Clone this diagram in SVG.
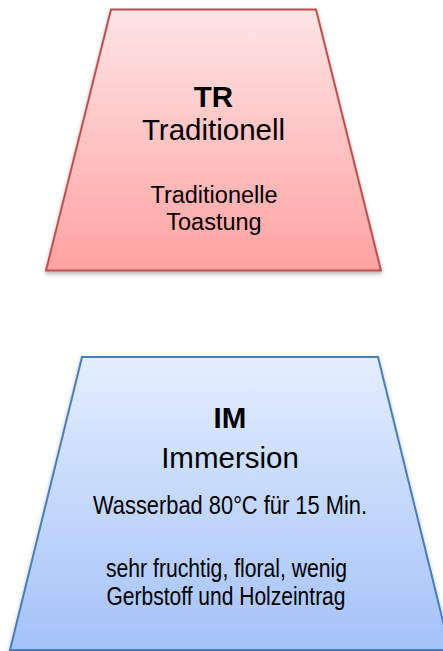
<svg xmlns="http://www.w3.org/2000/svg" width="443" height="651" viewBox="0 0 443 651">
  <style>
    .t { font-family: "Liberation Sans", Arial, sans-serif; fill: #000; text-anchor: middle; }
    .h { font-weight: bold; font-size: 29.5px; }
    .s { font-size: 29.5px; }
    .b { font-size: 23.5px; }
    .c { font-size: 25px; }
  </style>
  <defs>
    <linearGradient id="gRed" x1="0" y1="0" x2="0" y2="1">
      <stop offset="0" stop-color="#fee5e5"/>
      <stop offset="1" stop-color="#ffa2a2"/>
    </linearGradient>
    <linearGradient id="gBlue" x1="0" y1="0" x2="0" y2="1">
      <stop offset="0" stop-color="#e4eefe"/>
      <stop offset="1" stop-color="#a4c2f9"/>
    </linearGradient>
    <filter id="sh" x="-10%" y="-10%" width="120%" height="125%">
      <feDropShadow dx="0" dy="2.5" stdDeviation="2" flood-color="#000" flood-opacity="0.3"/>
    </filter>
  </defs>
  <rect width="443" height="651" fill="#fff"/>
  <g id="node-tr">
    <polygon points="111,9.5 316,9.5 381,270.5 46,270.5" fill="url(#gRed)" stroke="#c0504d" stroke-width="2" filter="url(#sh)"/>
    <text class="t h" x="213.5" y="107">TR</text>
    <text class="t s" x="213.5" y="140">Traditionell</text>
    <text class="t b" x="214" y="203">Traditionelle</text>
    <text class="t b" x="214" y="230">Toastung</text>
  </g>
  <g id="node-im">
    <polygon points="82,357 378,357 450,650 10,650" fill="url(#gBlue)" stroke="#4a7ebb" stroke-width="2" filter="url(#sh)"/>
    <text class="t h" x="230" y="428">IM</text>
    <text class="t s" x="230" y="468">Immersion</text>
    <text class="t c" x="230" y="514" textLength="274" lengthAdjust="spacingAndGlyphs">Wasserbad 80°C für 15 Min.</text>
    <text class="t c" x="226.5" y="577" textLength="241" lengthAdjust="spacingAndGlyphs">sehr fruchtig, floral, wenig</text>
    <text class="t c" x="226" y="605" textLength="239" lengthAdjust="spacingAndGlyphs">Gerbstoff und Holzeintrag</text>
  </g>
  <g id="connectors"/>
</svg>
